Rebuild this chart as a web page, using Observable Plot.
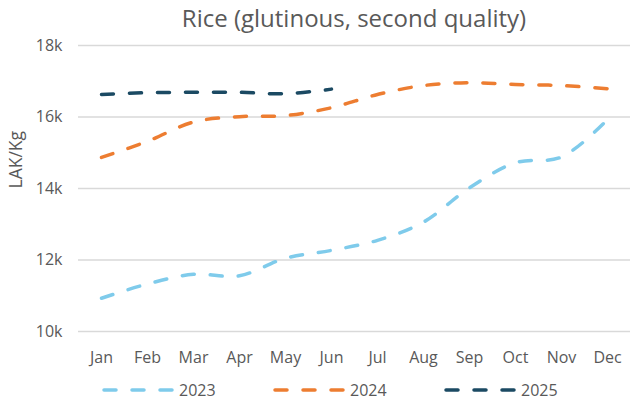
<!DOCTYPE html>
<html>
<head>
<meta charset="utf-8">
<script src="https://cdn.jsdelivr.net/npm/d3@7"></script>
<script src="https://cdn.jsdelivr.net/npm/@observablehq/plot@0.6"></script>
<style>
  html, body { margin: 0; padding: 0; background: #fff; }
  body { width: 630px; height: 400px; overflow: hidden; font-family: "Open Sans", sans-serif; }
  #title { height: 30px; line-height: 36px; text-align: center; padding-left: 78px; font-size: 24px; color: #595959; white-space: nowrap; }
  #legend { position: relative; height: 25px; }
  .item { position: absolute; top: 2px; height: 25px; display: flex; align-items: center; font-size: 16px; color: #595959; }
  .item svg { margin-right: 5px; }
</style>
</head>
<body>
<div id="title">Rice (glutinous, second quality)</div>
<div id="chart"></div>
<div id="legend"></div>
<script>
const months = ["Jan","Feb","Mar","Apr","May","Jun","Jul","Aug","Sep","Oct","Nov","Dec"];
const years = ["2023","2024","2025"];
const colors = ["#7fcbeb","#ed7d31","#1b4a63"];
const v2023 = [10930, 11330, 11600, 11560, 12050, 12270, 12550, 13060, 14020, 14720, 14880, 15930];
const v2024 = [14870, 15320, 15860, 16010, 16040, 16260, 16630, 16880, 16960, 16910, 16880, 16790];
const v2025 = [16630, 16680, 16690, 16690, 16650, 16780];
const yTicks = [10000, 12000, 14000, 16000, 18000];

const series = [v2023, v2024, v2025];
const data = [];
series.forEach((vals, i) => vals.forEach((v, j) => data.push({year: years[i], month: months[j], value: v})));

const chart = Plot.plot({
  width: 630,
  height: 345,
  marginTop: 15,
  marginBottom: 44,
  marginLeft: 78,
  marginRight: 0,
  style: { fontFamily: "Open Sans, sans-serif", fontSize: "16px", color: "#595959", background: "#fff" },
  x: { type: "point", domain: months, padding: 0.44, label: null },
  y: { domain: [10000, 18000], ticks: yTicks, label: null },
  color: { domain: years, range: colors },
  marks: [
    Plot.ruleY(yTicks, { stroke: "#d9d9d9", strokeWidth: 1.5 }),
    Plot.axisY({ ticks: yTicks, tickSize: 0, tickPadding: 16, tickFormat: d => (d / 1000) + "k", label: null, fontSize: 16 }),
    Plot.axisX({ tickSize: 0, tickPadding: 20, label: null, fontSize: 16 }),
    Plot.text(["LAK/Kg"], { frameAnchor: "left", dx: -62, dy: 0, rotate: -90, fontSize: 17.5, fill: "#595959" }),
    Plot.line(data, {
      x: "month", y: "value", z: "year", stroke: "year",
      strokeWidth: 3.5, strokeDasharray: "12,16", strokeLinecap: "round",
      curve: "catmull-rom"
    })
  ]
});
document.getElementById("chart").appendChild(chart);

const legend = document.getElementById("legend");
const lefts = [101, 272, 443];
years.forEach((y, i) => {
  const div = document.createElement("div");
  div.className = "item";
  div.style.left = lefts[i] + "px";
  div.innerHTML = `<svg width="73" height="10"><line x1="3" y1="5" x2="71" y2="5" stroke="${colors[i]}" stroke-width="3.5" stroke-linecap="round" stroke-dasharray="12,16"/></svg><span>${y}</span>`;
  legend.appendChild(div);
});
</script>
</body>
</html>
